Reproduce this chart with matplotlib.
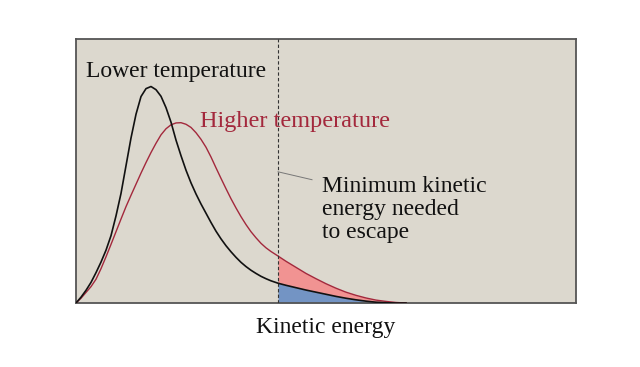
import matplotlib
matplotlib.use("Agg")
import matplotlib.pyplot as plt
import numpy as np

# Kinetic energy (arbitrary units) and relative fraction of molecules
energy = [0, 0.1, 0.2, 0.3, 0.4, 0.5, 0.6, 0.7, 0.8, 0.9, 1.0, 1.1, 1.2, 1.3,
          1.4, 1.5, 1.6, 1.7, 1.8, 1.9, 2.0, 2.1, 2.2, 2.3, 2.4, 2.5, 2.6,
          2.7, 2.8, 2.9, 3.0, 3.1, 3.2, 3.3, 3.4, 3.5, 3.6, 3.7, 3.8, 3.9,
          4.04, 4.2, 4.4, 4.6, 4.8, 5.0, 5.2, 5.4, 5.6, 5.8, 6.0, 6.2, 6.4,
          6.6]
lower_temp = [0, 0.022, 0.048, 0.078, 0.115, 0.155, 0.2, 0.255, 0.33, 0.415,
              0.52, 0.625, 0.715, 0.782, 0.812, 0.82, 0.808, 0.783, 0.74,
              0.685, 0.617, 0.558, 0.503, 0.455, 0.413, 0.375, 0.34, 0.305,
              0.272, 0.243, 0.217, 0.194, 0.173, 0.154, 0.138, 0.124, 0.112,
              0.101, 0.092, 0.084, 0.075, 0.067, 0.058, 0.049, 0.041, 0.033,
              0.025, 0.018, 0.012, 0.007, 0.003, 0.001, 0.0, 0.0]
higher_temp = [0, 0.018, 0.04, 0.062, 0.09, 0.13, 0.175, 0.222, 0.27, 0.318,
               0.365, 0.408, 0.45, 0.492, 0.532, 0.57, 0.605, 0.637, 0.66,
               0.675, 0.682, 0.683, 0.677, 0.665, 0.645, 0.62, 0.59, 0.553,
               0.512, 0.472, 0.433, 0.395, 0.36, 0.327, 0.297, 0.27, 0.247,
               0.226, 0.209, 0.195, 0.178, 0.158, 0.135, 0.112, 0.092, 0.073,
               0.056, 0.041, 0.029, 0.019, 0.011, 0.006, 0.002, 0.0]
escape_energy = 4.04

x = np.array(energy)
ylo = np.array(lower_temp)
yhi = np.array(higher_temp)

serif = ["Liberation Serif", "DejaVu Serif"]

fig = plt.figure(figsize=(6.4, 3.67), dpi=100)
fig.patch.set_facecolor("white")
ax = fig.add_axes([76 / 640, 1 - 303 / 367, 500 / 640, 264 / 367])
ax.set_facecolor("#dcd8ce")
ax.set_xlim(0, 10)
ax.set_ylim(0, 1)

mask = x >= escape_energy
ax.fill_between(x, ylo, yhi, where=mask, color="#f19392", lw=0, zorder=2)
ax.fill_between(x, 0, ylo, where=mask, color="#7394c4", lw=0, zorder=2)

ax.plot(x, yhi, color="#a3283c", lw=1.0, zorder=3, solid_joinstyle="round")
ax.plot(x, ylo, color="#111111", lw=1.2, zorder=4, solid_joinstyle="round")

ax.axvline(escape_energy, color="#333333", lw=0.8, ls=(0, (3, 2)), zorder=3)
ax.plot([escape_energy, 4.72], [0.497, 0.467], color="#777777", lw=0.7, zorder=3)

ax.text(0.2, 0.856, "Lower temperature", family=serif, fontsize=17,
        color="#111111", va="baseline", ha="left")
ax.text(2.48, 0.667, "Higher temperature", family=serif, fontsize=17.5,
        color="#a3283c", va="baseline", ha="left")
ax.text(4.92, 0.42, "Minimum kinetic", family=serif, fontsize=17,
        color="#111111", va="baseline", ha="left")
ax.text(4.92, 0.333, "energy needed", family=serif, fontsize=17,
        color="#111111", va="baseline", ha="left")
ax.text(4.92, 0.246, "to escape", family=serif, fontsize=17,
        color="#111111", va="baseline", ha="left")

ax.set_xticks([])
ax.set_yticks([])
for s in ax.spines.values():
    s.set_color("#555555")
    s.set_linewidth(1.3)

fig.text(326 / 640, 1 - 333 / 367, "Kinetic energy", family=serif,
         fontsize=17, color="#111111", ha="center", va="baseline")

fig.savefig("out.png", dpi=100, facecolor="white")
